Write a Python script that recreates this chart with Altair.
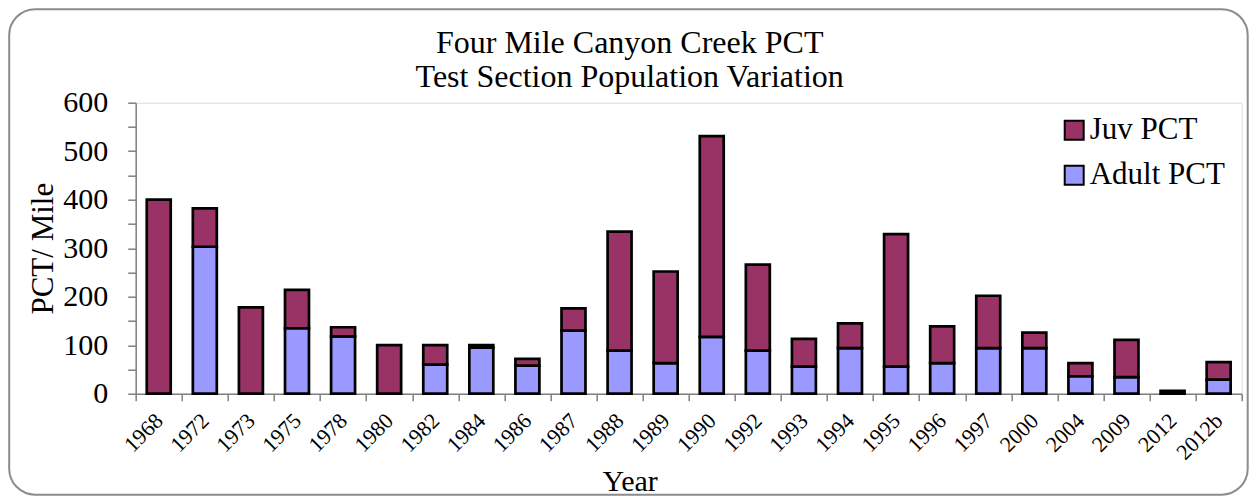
import altair as alt
import pandas as pd

years = ["1968", "1972", "1973", "1975", "1978", "1980", "1982", "1984", "1986", "1987",
         "1988", "1989", "1990", "1992", "1993", "1994", "1995", "1996", "1997", "2000",
         "2004", "2009", "2012", "2012b"]
adult = [0, 303, 0, 135, 118, 0, 60, 95, 58, 130, 89, 63, 117, 89, 56, 94, 56, 63, 94, 94, 36, 34, 0, 29]
juv = [400, 79, 178, 79, 19, 100, 40, 5, 14, 46, 245, 189, 414, 177, 57, 51, 273, 76, 108, 32, 27, 77, 6, 36]
series = ["Juv PCT", "Adult PCT"]
colors = ["#993366", "#9999ff"]
title_lines = ["Four Mile Canyon Creek PCT", "Test Section Population Variation"]
y_ticks = list(range(0, 601, 50))

rows = []
for yr, a, j in zip(years, adult, juv):
    rows.append({"Year": yr, "series": "Adult PCT", "value": a, "ord": 0})
    rows.append({"Year": yr, "series": "Juv PCT", "value": j, "ord": 1})
df = pd.DataFrame(rows)

FONT = "Liberation Serif"
W, H = 1106, 291

frame = alt.Chart(alt.InlineData(values=[{"k": 1}])).mark_rect(
    cornerRadius=26, fill="white", fillOpacity=0, stroke="#8c8c8c", strokeWidth=2
).encode(
    x=alt.value(-126.5), x2=alt.value(1112), y=alt.value(-93.5), y2=alt.value(392)
)

bars = alt.Chart(df).transform_filter("datum.value > 0").mark_bar(
    width=alt.RelativeBandSize(0.52), stroke="black", strokeWidth=2.7
).encode(
    x=alt.X("Year:N", sort=years,
            scale=alt.Scale(paddingInner=0, paddingOuter=0),
            axis=alt.Axis(tickBand="extent", labelAngle=315, labelAlign="right",
                          labelBaseline="middle", labelFont=FONT, labelFontSize=22,
                          labelColor="black", labelPadding=16, labelOverlap=False,
                          tickSize=7, tickColor="#808080", tickWidth=1.5,
                          domainColor="#808080", domainWidth=1.5,
                          title="Year", titleFont=FONT, titleFontSize=30,
                          titleFontWeight="normal", titleColor="black",
                          titleX=494, titleY=97, titleAlign="center",
                          titleBaseline="alphabetic")),
    y=alt.Y("value:Q", stack="zero",
            scale=alt.Scale(domain=[0, 600], nice=False),
            axis=alt.Axis(values=y_ticks,
                          labelExpr="datum.value % 100 === 0 ? datum.label : ''",
                          labelFont=FONT, labelFontSize=30, labelColor="black",
                          labelPadding=20, tickSize=8, tickColor="#808080",
                          tickWidth=1.5, domainColor="#808080", domainWidth=1.5,
                          grid=False, title="PCT/ Mile", titleFont=FONT,
                          titleFontSize=31, titleFontWeight="normal",
                          titleColor="black", titleAngle=270, titleX=-83,
                          titleY=145.5, titleAlign="center",
                          titleBaseline="alphabetic")),
    color=alt.Color("series:N", scale=alt.Scale(domain=series, range=colors),
                    legend=alt.Legend(orient="none", legendX=923, legendY=12,
                                      title=None, symbolType="square",
                                      symbolSize=360, symbolStrokeColor="black",
                                      symbolStrokeWidth=2, labelFont=FONT,
                                      labelFontSize=31, labelColor="black",
                                      labelOffset=0, rowPadding=13, padding=0)),
    order=alt.Order("ord:Q"),
)

chart = alt.layer(frame, bars).properties(
    width=W, height=H,
    autosize=alt.AutoSizeParams(type="none"),
    padding={"left": 127.7, "top": 94.7, "right": 7.3, "bottom": 102.3},
    title=alt.TitleParams(text=title_lines, fontSize=32, font=FONT,
                          fontWeight="normal", color="black", anchor="middle",
                          frame="group", dx=-59, offset=-118, lineHeight=34.5,
                          baseline="bottom"),
).configure_view(stroke=None).configure(background="white")

chart.save("out.html", embed_options={"renderer": "svg", "actions": False})
